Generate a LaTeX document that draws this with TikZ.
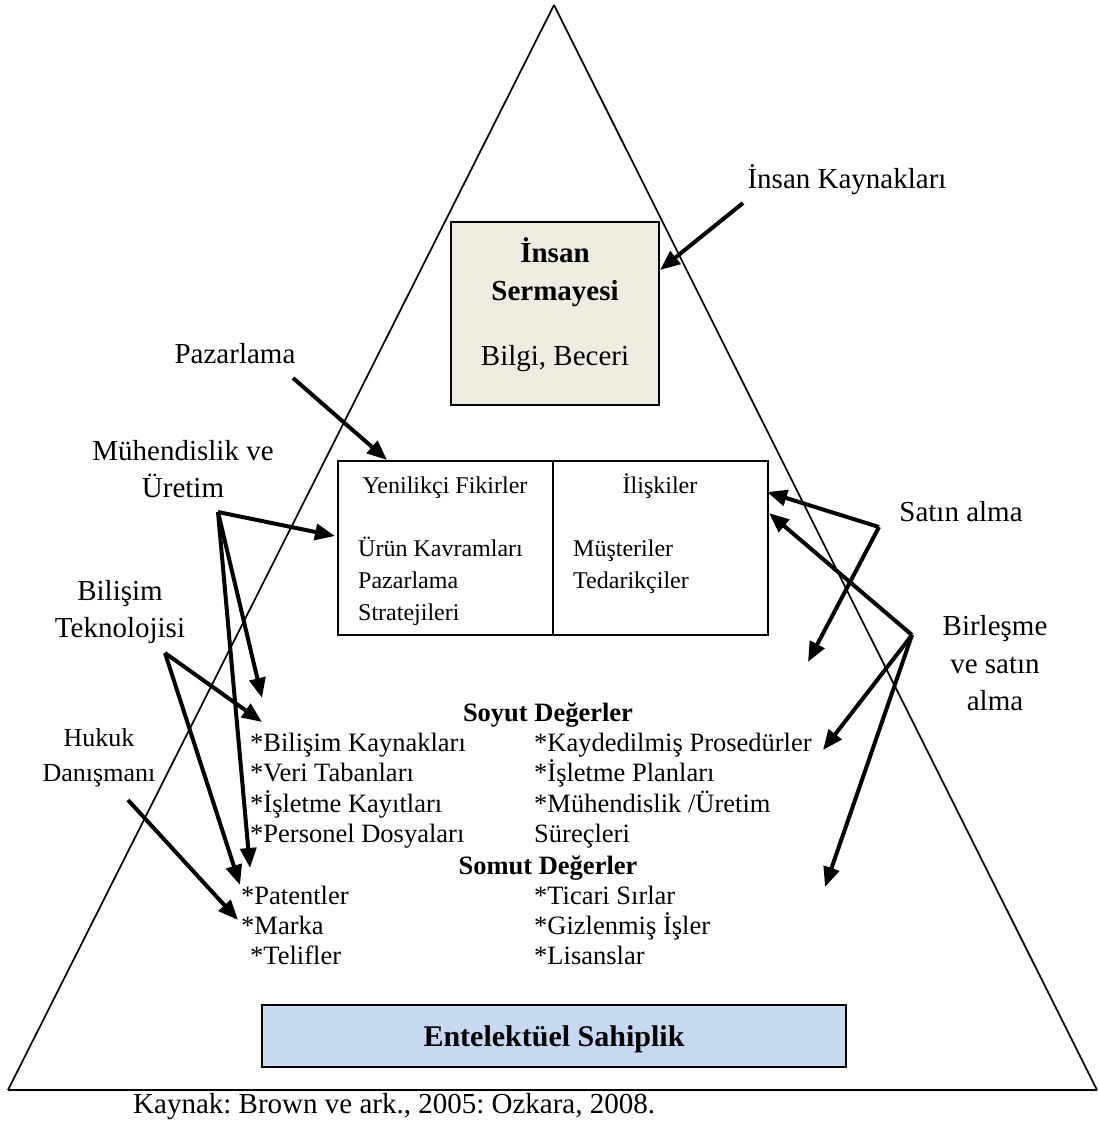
\documentclass[tikz,border=0pt]{standalone}
\usepackage{fontspec}
\setmainfont{Liberation Serif}
\usetikzlibrary{arrows.meta}
\definecolor{capfill}{HTML}{EEECE1}
\definecolor{ipfill}{HTML}{C6D9F1}
\frenchspacing

\begin{document}
\begin{tikzpicture}[x=1pt,y=-1pt,
  outline/.style={line width=1.7},
  boxframe/.style={draw, line width=2.2, inner sep=0pt},
  lbl/.style={font=\fontsize{29}{37}\selectfont, inner sep=0pt, anchor=base},
  smalllbl/.style={font=\fontsize{26}{35}\selectfont, inner sep=0pt, anchor=base},
  item/.style={font=\fontsize{26.5}{30}\selectfont, inner sep=0pt, anchor=base west},
  head/.style={font=\fontsize{26.5}{30}\selectfont\bfseries, inner sep=0pt, anchor=base},
  boxtxt/.style={font=\fontsize{24}{30}\selectfont, inner sep=0pt},
  arr/.style={line width=4, -{Triangle[length=20,width=16]}}
]
\useasboundingbox (0,0) rectangle (1098,1124);

% pyramid
\draw[outline] (554,5) -- (8,1090);
\draw[outline] (554,5) -- (1097,1090);
\draw[line width=2.6] (8,1090) -- (1097,1090);

% human capital box
\node[boxframe, fill=capfill, minimum width=208, minimum height=183] (cap) at (555,313.5) {};
\node[lbl, font=\fontsize{29}{37}\selectfont\bfseries] (capt1) at (555,262) {İnsan};
\node[lbl, font=\fontsize{29}{37}\selectfont\bfseries] (capt2) at (555,300) {Sermayesi};
\node[lbl] (capt3) at (555,365) {Bilgi, Beceri};

% ideas / relations box
\node[boxframe, minimum width=215, minimum height=174, anchor=north west] (ideas) at (337,460) {};
\node[boxframe, minimum width=215, minimum height=174, anchor=north west] (rel) at (552,460) {};
\node[boxtxt, anchor=base] (ideast) at (445,493) {Yenilikçi Fikirler};
\node[boxtxt, anchor=base] (relt) at (660,493) {İlişkiler};
\node[boxtxt, anchor=base west] (id1) at (358,556) {Ürün Kavramları};
\node[boxtxt, anchor=base west] (id2) at (358,588) {Pazarlama};
\node[boxtxt, anchor=base west] (id3) at (358,620) {Stratejileri};
\node[boxtxt, anchor=base west] (rl1) at (573,556) {Müşteriler};
\node[boxtxt, anchor=base west] (rl2) at (573,588) {Tedarikçiler};

% value lists
\node[head] (soyut) at (548,721) {Soyut Değerler};
\node[item] (l1) at (250,751) {*Bilişim Kaynakları};
\node[item] (l2) at (250,781) {*Veri Tabanları};
\node[item] (l3) at (250,812) {*İşletme Kayıtları};
\node[item] (l4) at (250,842) {*Personel Dosyaları};
\node[item] (r1) at (534,751) {*Kaydedilmiş Prosedürler};
\node[item] (r2) at (534,781) {*İşletme Planları};
\node[item] (r3) at (534,812) {*Mühendislik /Üretim};
\node[item] (r4) at (534,842) {Süreçleri};
\node[head] (somut) at (548,874) {Somut Değerler};
\node[item] (l5) at (241,904) {*Patentler};
\node[item] (l6) at (241,934) {*Marka};
\node[item] (l7) at (250,964) {*Telifler};
\node[item] (r5) at (534,904) {*Ticari Sırlar};
\node[item] (r6) at (534,934) {*Gizlenmiş İşler};
\node[item] (r7) at (534,964) {*Lisanslar};

% intellectual property box
\node[boxframe, fill=ipfill, minimum width=584, minimum height=62] (ip) at (554,1036) {};
\node[head, font=\fontsize{30}{34}\selectfont\bfseries] (ipt) at (554,1046) {Entelektüel Sahiplik};

% source line
\node[lbl, anchor=base west] (src) at (133,1113) {Kaynak: Brown ve ark., 2005: Ozkara, 2008.};

% outside labels
\node[lbl] (hr) at (847,188) {İnsan Kaynakları};
\node[lbl] (mkt) at (235,363) {Pazarlama};
\node[lbl] (eng1) at (183,460) {Mühendislik ve};
\node[lbl] (eng2) at (183,497) {Üretim};
\node[lbl] (it1) at (120,600) {Bilişim};
\node[lbl] (it2) at (120,637) {Teknolojisi};
\node[smalllbl] (law1) at (99,746) {Hukuk};
\node[smalllbl] (law2) at (99,781) {Danışmanı};
\node[lbl] (buy) at (961,521) {Satın alma};
\node[lbl] (mrg1) at (995,635) {Birleşme};
\node[lbl] (mrg2) at (995,673) {ve satın};
\node[lbl] (mrg3) at (995,710) {alma};

% arrow end points
\coordinate (hrS) at (743,203);   \coordinate (hrE) at (660,270);
\coordinate (mktS) at (293,378);  \coordinate (mktE) at (387,460);
\coordinate (engS) at (218,512);
\coordinate (engE1) at (335,536); \coordinate (engE2) at (262,698); \coordinate (engE3) at (250,868);
\coordinate (itS) at (165,653);
\coordinate (itE1) at (262,722);  \coordinate (itE2) at (240,885);
\coordinate (lawS) at (128,800);  \coordinate (lawE) at (238,920);
\coordinate (buyS) at (879,527);
\coordinate (buyE1) at (767,492); \coordinate (buyE2) at (808,662);
\coordinate (mrgS) at (912,635);
\coordinate (mrgE1) at (769,513); \coordinate (mrgE2) at (823,750); \coordinate (mrgE3) at (825,887);

% arrows
\draw[arr] (hrS) -- (hrE);
\draw[arr] (mktS) -- (mktE);
\draw[arr] (engS) -- (engE1);
\draw[arr] (engS) -- (engE2);
\draw[arr] (engS) -- (engE3);
\draw[arr] (itS) -- (itE1);
\draw[arr] (itS) -- (itE2);
\draw[arr] (lawS) -- (lawE);
\draw[arr] (buyS) -- (buyE1);
\draw[arr] (buyS) -- (buyE2);
\draw[arr] (mrgS) -- (mrgE1);
\draw[arr] (mrgS) -- (mrgE2);
\draw[arr] (mrgS) -- (mrgE3);
\end{tikzpicture}
\end{document}
